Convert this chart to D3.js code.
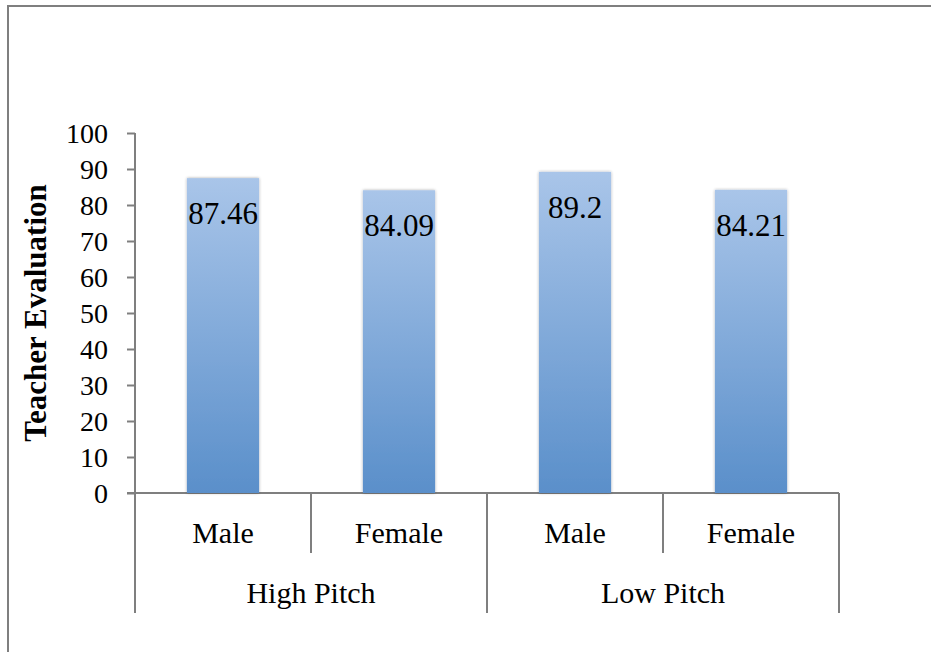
<!DOCTYPE html>
<meta charset="utf-8">
<head>
    <title>Teacher Evaluation</title>
    <style>
        body { margin: 0; background: #fff; }
        svg text { font-family: "Liberation Serif", "DejaVu Serif", serif !important; fill: #000; }
    </style>
</head>
<script src="https://d3js.org/d3.v7.min.js"></script>
<svg id="chart" width="931" height="652"></svg>
<script>
    // data
    const genders = ["Male", "Female", "Male", "Female"]
    const pitches = ["High Pitch", "Low Pitch"]
    const values = [87.46, 84.09, 89.2, 84.21]
    const yTicks = [0, 10, 20, 30, 40, 50, 60, 70, 80, 90, 100]

    const serif = "'Liberation Serif', serif"
    const svg = d3.select("#chart")

    const margin = { left: 135, right: 92, top: 133, bottom: 159 }
    const width = 931, height = 652

    // outer frame (runs past the right and bottom edge)
    svg.append("rect")
        .attr("x", 8).attr("y", 6)
        .attr("width", 1000).attr("height", 1000)
        .attr("fill", "none")
        .attr("stroke", "#7f7f7f")
        .attr("stroke-width", 2)

    const defs = svg.append("defs")
    const grad = defs.append("linearGradient")
        .attr("id", "barGrad")
        .attr("x1", 0).attr("y1", 0).attr("x2", 0).attr("y2", 1)
    grad.append("stop").attr("offset", "0%").attr("stop-color", "#a9c5e9")
    grad.append("stop").attr("offset", "100%").attr("stop-color", "#5a8fca")

    const shadow = defs.append("filter").attr("id", "shadow")
        .attr("x", "-20%").attr("y", "-5%").attr("width", "140%").attr("height", "110%")
    shadow.append("feGaussianBlur").attr("in", "SourceAlpha").attr("stdDeviation", 1.5)
    shadow.append("feComponentTransfer").append("feFuncA").attr("type", "linear").attr("slope", 0.35)
    const merge = shadow.append("feMerge")
    merge.append("feMergeNode")
    merge.append("feMergeNode").attr("in", "SourceGraphic")

    const x = d3.scaleBand()
        .domain(d3.range(values.length))
        .range([margin.left, width - margin.right])
        .paddingInner(0).paddingOuter(0)

    const y = d3.scaleLinear()
        .domain([0, 100])
        .range([height - margin.bottom, margin.top])

    const barW = x.bandwidth() * 0.41
    const y0 = y(0)

    // y axis
    const yAxis = svg.append("g")
        .attr("transform", `translate(${margin.left},0)`)
        .call(d3.axisLeft(y).tickValues(yTicks).tickSize(8).tickPadding(19).tickFormat(d3.format("d")))
        .attr("font-family", serif)
        .attr("font-size", 28)
    yAxis.select(".domain").attr("stroke", "#7f7f7f").attr("stroke-width", 2)
        .attr("d", `M0,${y(100)}V${y0}`)
    yAxis.selectAll(".tick line").attr("stroke", "#7f7f7f").attr("stroke-width", 2)
    yAxis.selectAll(".tick text")
        .style("font-family", serif)
        .style("font-size", "28px")
        .attr("dy", "0.35em")

    // y title
    svg.append("text")
        .attr("transform", `translate(46,${(y(100) + y0) / 2}) rotate(-90)`)
        .attr("text-anchor", "middle")
        .style("font-family", serif)
        .style("font-size", "31px")
        .style("font-weight", "bold")
        .text("Teacher Evaluation")

    // category axis lines
    const axisG = svg.append("g").attr("stroke", "#7f7f7f").attr("stroke-width", 2)
    axisG.append("line")
        .attr("x1", margin.left - 8).attr("x2", width - margin.right)
        .attr("y1", y0).attr("y2", y0)

    // dividers: inner between genders, outer between pitch groups
    d3.range(values.length + 1).forEach(function(i) {
        const xx = i < values.length ? x(i) : x(values.length - 1) + x.bandwidth()
        const outer = i % 2 === 0
        axisG.append("line")
            .attr("x1", xx).attr("x2", xx)
            .attr("y1", y0).attr("y2", y0 + (outer ? 120 : 60))
    })

    // bars
    svg.append("g")
        .selectAll("rect")
        .data(values)
        .join("rect")
        .attr("x", (d, i) => x(i) + (x.bandwidth() - barW) / 2)
        .attr("y", d => y(d))
        .attr("width", barW)
        .attr("height", d => y0 - y(d))
        .attr("fill", "url(#barGrad)")
        .attr("filter", "url(#shadow)")

    // value labels
    svg.append("g")
        .selectAll("text")
        .data(values)
        .join("text")
        .attr("x", (d, i) => x(i) + x.bandwidth() / 2)
        .attr("y", d => y(d) + 46)
        .attr("text-anchor", "middle")
        .style("font-family", serif)
        .style("font-size", "31px")
        .text(d => d)

    // gender labels
    svg.append("g")
        .selectAll("text")
        .data(genders)
        .join("text")
        .attr("x", (d, i) => x(i) + x.bandwidth() / 2)
        .attr("y", y0 + 50)
        .attr("text-anchor", "middle")
        .style("font-family", serif)
        .style("font-size", "30px")
        .text(d => d)

    // pitch group labels
    svg.append("g")
        .selectAll("text")
        .data(pitches)
        .join("text")
        .attr("x", (d, i) => x(i * 2) + x.bandwidth())
        .attr("y", y0 + 110)
        .attr("text-anchor", "middle")
        .style("font-family", serif)
        .style("font-size", "30px")
        .text(d => d)
</script>
